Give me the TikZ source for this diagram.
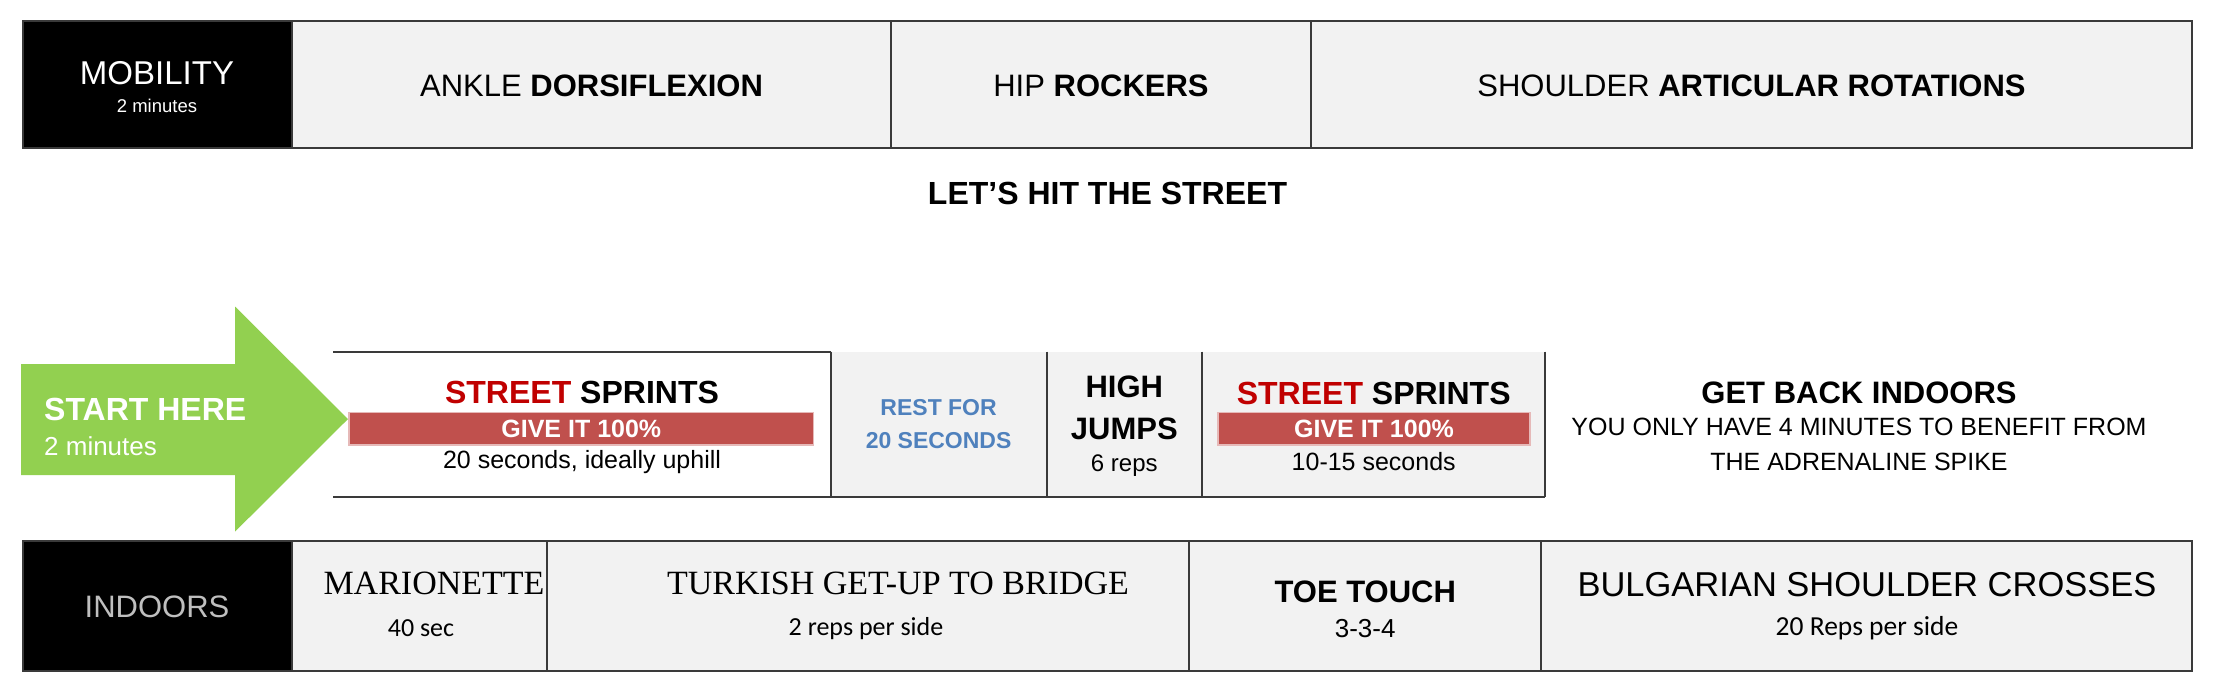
\documentclass[tikz,border=0pt]{standalone}
\usepackage{fontspec}
\setmainfont{Liberation Sans}
\newfontfamily\serifx{Liberation Serif}
\newfontfamily\calib{Carlito}
\definecolor{cellgray}{HTML}{F2F2F2}
\definecolor{edge}{HTML}{3A3A3A}
\definecolor{barred}{HTML}{C0504D}
\definecolor{barline}{HTML}{E6B9B8}
\definecolor{streetred}{HTML}{C00000}
\definecolor{restblue}{HTML}{4F81BD}
\definecolor{arrowgreen}{HTML}{92D050}
\definecolor{indgray}{HTML}{BFBFBF}
\begin{document}
\begin{tikzpicture}[x=1pt,y=-1pt,
  fs/.style={font=\fontsize{#1}{#1}\selectfont},
  fsb/.style={font=\fontsize{#1}{#1}\selectfont\bfseries},
  fss/.style={font=\fontsize{#1}{#1}\selectfont\serifx},
  fsc/.style={font=\fontsize{#1}{#1}\selectfont\calib},
  cellbox/.style={draw=edge, line width=2pt, fill=cellgray, inner sep=0pt, outer sep=0pt},
  blackbox/.style={draw=edge, line width=2pt, fill=black, inner sep=0pt, outer sep=0pt},
  plainbox/.style={inner sep=0pt, outer sep=0pt},
  redbar/.style={draw=barline, line width=1.5pt, fill=barred, inner sep=0pt, outer sep=0pt, minimum height=32.5pt},
  edgeline/.style={draw=edge, line width=2pt},
  txt/.style={inner sep=0pt, align=center}
]
\useasboundingbox (0,0) rectangle (2215,699);

% ---------- top row ----------
\node[blackbox, minimum width=269.4pt, minimum height=127pt] (mob) at (157.3,84.5) {};
\node[cellbox, minimum width=599pt, minimum height=127pt] (ankle) at (591.5,84.5) {};
\node[cellbox, minimum width=420pt, minimum height=127pt] (hip) at (1101,84.5) {};
\node[cellbox, minimum width=881pt, minimum height=127pt] (shoulder) at (1751.5,84.5) {};
\node[txt, fs=33, text=white] (mobt) at (157,73.5) {MOBILITY};
\node[txt, fs=18.5, text=white] (mobs) at (157,106) {2 minutes};
\node[txt, fs=31] (anklet) at (591.5,86) {ANKLE \textbf{DORSIFLEXION}};
\node[txt, fs=31] (hipt) at (1101,86) {HIP \textbf{ROCKERS}};
\node[txt, fs=31] (shouldert) at (1751.5,86) {SHOULDER \textbf{ARTICULAR ROTATIONS}};

\node[txt, fsb=32] (title) at (1107.5,193.5) {LET’S HIT THE STREET};

% ---------- street row ----------
\node[plainbox, fill=white, minimum width=497.2pt, minimum height=145.5pt] (sp1) at (582,424.45) {};
\node[plainbox, fill=cellgray, minimum width=216.1pt, minimum height=145.5pt] (rest) at (938.65,424.45) {};
\node[plainbox, fill=cellgray, minimum width=155.3pt, minimum height=145.5pt] (high) at (1124.35,424.45) {};
\node[plainbox, fill=cellgray, minimum width=343.4pt, minimum height=145.5pt] (sp2) at (1373.7,424.45) {};
\draw[edgeline] (sp1.north west) -- (sp1.north east);
\draw[edgeline] (sp1.south west) -- (sp2.south east);
\draw[edgeline] (rest.north west) -- (rest.south west);
\draw[edgeline] (high.north west) -- (high.south west);
\draw[edgeline] (sp2.north west) -- (sp2.south west);
\draw[edgeline] (sp2.north east) -- (sp2.south east);

\node[redbar, minimum width=464.6pt] (bar1) at (581.3,428.75) {};
\node[redbar, minimum width=312pt] (bar2) at (1374,428.75) {};

\node[txt, fsb=32] (sp1t) at (582,392.7) {\textcolor{streetred}{STREET} SPRINTS};
\node[txt, fsb=25, text=white] (bar1t) at (bar1) {GIVE IT 100\%};
\node[txt, fs=25] (sp1s) at (582,462) {20 seconds, ideally uphill};

\node[txt, fsb=23, text=restblue] (rest1) at (938.6,408) {REST FOR};
\node[txt, fsb=23, text=restblue] (rest2) at (938.6,441) {20 SECONDS};

\node[txt, fsb=31] (high1) at (1124.3,387) {HIGH};
\node[txt, fsb=31] (high2) at (1124.3,429) {JUMPS};
\node[txt, fs=24] (high3) at (1124.3,466) {6 reps};

\node[txt, fsb=32] (sp2t) at (1373.7,393) {\textcolor{streetred}{STREET} SPRINTS};
\node[txt, fsb=25, text=white] (bar2t) at (bar2) {GIVE IT 100\%};
\node[txt, fs=25] (sp2s) at (1373.7,462) {10-15 seconds};

\node[txt, fsb=31] (back1) at (1859,393) {GET BACK INDOORS};
\node[txt, fs=25] (back2) at (1859,427) {YOU ONLY HAVE 4 MINUTES TO BENEFIT FROM};
\node[txt, fs=25] (back3) at (1859,462) {THE ADRENALINE SPIKE};

% ---------- start arrow ----------
\coordinate (a1) at (21,364);
\coordinate (a2) at (235,364);
\coordinate (a3) at (235,306.5);
\coordinate (tip) at (348,419);
\coordinate (a5) at (235,531.7);
\coordinate (a6) at (235,475);
\coordinate (a7) at (21,475);
\fill[arrowgreen] (a1) -- (a2) -- (a3) -- (tip) -- (a5) -- (a6) -- (a7) -- cycle;
\node[txt, fsb=32, text=white, anchor=west] (start1) at (44,409.6) {START HERE};
\node[txt, fs=26, text=white, anchor=west] (start2) at (44,446) {2 minutes};

% ---------- bottom row ----------
\node[blackbox, minimum width=269.4pt, minimum height=130pt] (ind) at (157.3,606) {};
\node[cellbox, minimum width=254.7pt, minimum height=130pt] (mar) at (419.35,606) {};
\node[cellbox, minimum width=642.7pt, minimum height=130pt] (turk) at (868.05,606) {};
\node[cellbox, minimum width=351.6pt, minimum height=130pt] (toe) at (1365.2,606) {};
\node[cellbox, minimum width=651pt, minimum height=130pt] (bulg) at (1866.5,606) {};

\node[txt, fs=31, text=indgray] (indt) at (157,607) {INDOORS};
\node[txt, fss=34] (mart) at (434,583) {MARIONETTE};
\node[txt, fsc=26] (mars) at (421,628.6) {40 sec};
\node[txt, fss=34] (turkt) at (898,583) {TURKISH GET-UP TO BRIDGE};
\node[txt, fsc=26] (turks) at (866,628.6) {2 reps per side};
\node[txt, fsb=31] (toet) at (1365.2,592) {TOE TOUCH};
\node[txt, fs=26] (toes) at (1365.2,628.6) {3-3-4};
\node[txt, fs=34.5] (bulgt) at (1867,585) {BULGARIAN SHOULDER CROSSES};
\node[txt, fsc=27.5] (bulgs) at (1867,628.6) {20 Reps per side};
\end{tikzpicture}
\end{document}
